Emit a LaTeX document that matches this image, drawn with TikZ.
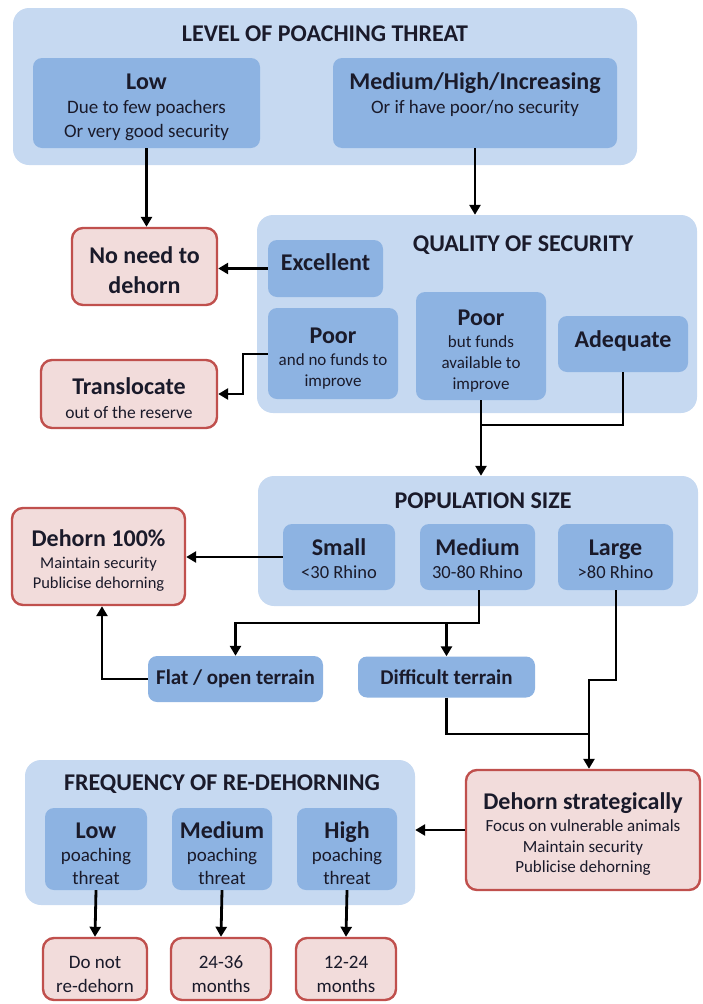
\documentclass[tikz,border=0pt]{standalone}
\usepackage{fontspec}
\setmainfont{Carlito}
\usetikzlibrary{arrows.meta}
\definecolor{outerblue}{HTML}{C6D9F1}
\definecolor{innerblue}{HTML}{8DB3E2}
\definecolor{pinkfill}{HTML}{F2DCDB}
\definecolor{redline}{HTML}{C0504D}
\definecolor{txt}{HTML}{1A1A2A}
\tikzset{
  outerbox/.style={fill=outerblue, draw=none, rounded corners=16pt, inner sep=0pt},
  innerbox/.style={fill=innerblue, draw=none, rounded corners=9pt, inner sep=2pt, align=center, text=txt},
  pinkbox/.style={fill=pinkfill, draw=redline, line width=2.4pt, rounded corners=11pt, inner sep=2pt, align=center, text=txt},
  ttl/.style={font=\fontsize{24}{26}\selectfont\bfseries, text=txt},
  arr/.style={line width=2.8pt, -{Triangle[length=10pt,width=11pt]}},
  ln/.style={line width=2.8pt},
}
\newcommand{\bigtx}[1]{{\fontsize{24}{29}\selectfont\bfseries #1}}
\newcommand{\tp}[1][25pt]{\rule{0pt}{#1}}
\begin{document}
\begin{tikzpicture}[x=1pt,y=-1pt]
\useasboundingbox (0,0) rectangle (703,1004);
% ---- level of poaching threat
\node[outerbox, minimum width=624pt, minimum height=157pt] (box1) at (325,86.5) {};
\node[ttl] (t1) at (325,34) {LEVEL OF POACHING THREAT};
\node[innerbox, minimum width=227pt, minimum height=90pt, font=\fontsize{19}{24}\selectfont] (low) at (146.5,103)
  {\tp\bigtx{Low}\\Due to few poachers\\Or very good security};
\node[innerbox, minimum width=284pt, minimum height=90pt, font=\fontsize{19}{24}\selectfont] (med) at (475,103)
  {\tp\bigtx{Medium/High/Increasing}\\Or if have poor/no security\\[-4pt]\strut};
% ---- outcome boxes
\node[pinkbox, minimum width=145pt, minimum height=77pt, font=\fontsize{24}{30}\selectfont\bfseries] (noneed) at (144.5,266.5)
  {\tp No need to\\dehorn};
% ---- quality of security
\node[outerbox, minimum width=440pt, minimum height=198pt] (qbox) at (477,314) {};
\node[ttl] (qt) at (523,245) {QUALITY OF SECURITY};
\node[innerbox, minimum width=115pt, minimum height=57pt] (exc) at (325.5,268.5) {\bigtx{Excellent}\\[0pt]};
\node[innerbox, minimum width=130pt, minimum height=91pt, font=\fontsize{17}{21}\selectfont] (poora) at (333,353.5)
  {\tp\bigtx{Poor}\\[1pt]and no funds to\\improve};
\node[innerbox, minimum width=130pt, minimum height=108pt, font=\fontsize{17}{21}\selectfont] (poorb) at (481,346)
  {\tp\bigtx{Poor}\\[1pt]but funds\\available to\\improve};
\node[innerbox, minimum width=130pt, minimum height=56pt] (adeq) at (623,344) {\bigtx{Adequate}\\[-2pt]};
\node[pinkbox, minimum width=176pt, minimum height=68pt, font=\fontsize{17.5}{24}\selectfont] (transl) at (129,394)
  {\tp\bigtx{Translocate}\\out of the reserve};
% ---- population size
\node[outerbox, minimum width=440pt, minimum height=130pt] (pbox) at (478,541) {};
\node[ttl] (pt) at (483,501) {POPULATION SIZE};
\node[innerbox, minimum width=112pt, minimum height=66pt, font=\fontsize{18.5}{23}\selectfont] (small) at (339,557)
  {\tp[21pt]\bigtx{Small}\\<30 Rhino};
\node[innerbox, minimum width=115pt, minimum height=66pt, font=\fontsize{18.5}{23}\selectfont] (pmed) at (477.5,557)
  {\tp[21pt]\bigtx{Medium}\\30-80 Rhino};
\node[innerbox, minimum width=115pt, minimum height=66pt, font=\fontsize{18.5}{23}\selectfont] (large) at (615.5,557)
  {\tp[21pt]\bigtx{Large}\\>80 Rhino};
\node[pinkbox, minimum width=173pt, minimum height=97pt, font=\fontsize{16.5}{20}\selectfont] (d100) at (98.5,556.5)
  {\tp\bigtx{Dehorn 100\%}\\[2pt]Maintain security\\Publicise dehorning};
\node[innerbox, minimum width=175pt, minimum height=46pt, font=\fontsize{21}{24}\selectfont\bfseries] (flat) at (235.5,679) {Flat / open terrain};
\node[innerbox, minimum width=177pt, minimum height=41pt, font=\fontsize{21}{24}\selectfont\bfseries] (diff) at (446.5,677) {Difficult terrain};
\node[pinkbox, minimum width=234pt, minimum height=120pt, font=\fontsize{17}{20.5}\selectfont] (dstrat) at (583,830)
  {\tp\bigtx{Dehorn strategically}\\[2pt]Focus on vulnerable animals\\Maintain security\\Publicise dehorning};
% ---- frequency of re-dehorning
\node[outerbox, minimum width=390pt, minimum height=145pt] (fbox) at (220,832.5) {};
\node[ttl] (ft) at (222,784) {FREQUENCY OF RE-DEHORNING};
\node[innerbox, minimum width=102pt, minimum height=82pt, font=\fontsize{19}{23}\selectfont] (flow) at (96,849)
  {\tp\bigtx{Low}\\poaching\\threat};
\node[innerbox, minimum width=100pt, minimum height=82pt, font=\fontsize{19}{23}\selectfont] (fmed) at (222,849)
  {\tp\bigtx{Medium}\\poaching\\threat};
\node[innerbox, minimum width=100pt, minimum height=82pt, font=\fontsize{19}{23}\selectfont] (fhigh) at (347,849)
  {\tp\bigtx{High}\\poaching\\threat};
\node[pinkbox, minimum width=104pt, minimum height=62pt, font=\fontsize{19}{24}\selectfont] (r1) at (95,969) {\tp[23pt]Do not\\re-dehorn};
\node[pinkbox, minimum width=100pt, minimum height=62pt, font=\fontsize{19}{24}\selectfont] (r2) at (221,969) {\tp[23pt]24-36\\months};
\node[pinkbox, minimum width=100pt, minimum height=62pt, font=\fontsize{19}{24}\selectfont] (r3) at (346,969) {\tp[23pt]12-24\\months};
% ---- connectors
\draw[arr] (low.south) -- (low.south |- noneed.north);
\draw[arr] (med.south) -- (med.south |- qbox.north);
\draw[arr] (exc.west) -- (noneed.east |- exc.west);
\coordinate (e1) at (243,354);
\draw[arr] (poora.west |- e1) -- (e1) |- (transl.east);
\coordinate (j1) at (481,425);
\draw[ln] (poorb.south) -- (j1);
\draw[ln] (adeq.south) |- (j1);
\draw[arr] (j1) -- (j1 |- pbox.north);
\draw[arr] (small.west) -- (d100.east |- small.west);
\coordinate (j2) at (479,623);
\draw[arr] (pmed.south -| j2) -- (j2) -| (flat.north);
\draw[arr] (j2 -| diff.north) -- (diff.north);
\coordinate (f1) at (102,0);
\draw[arr] (flat.west) -| (d100.south -| f1);
\coordinate (j3) at (616,680);
\coordinate (j4) at (589,680);
\coordinate (j5) at (589,734);
\draw[ln] (large.south -| j3) -- (j3) -- (j4) -- (j5);
\draw[ln] (diff.south) |- (j5);
\draw[arr] (j5) -- (dstrat.north -| j5);
\draw[arr] (dstrat.west) -- (fbox.east |- dstrat.west);
\draw[arr] (flow.south) -- (r1.north);
\draw[arr] (fmed.south) -- (r2.north);
\draw[arr] (fhigh.south) -- (r3.north);
\end{tikzpicture}
\end{document}
